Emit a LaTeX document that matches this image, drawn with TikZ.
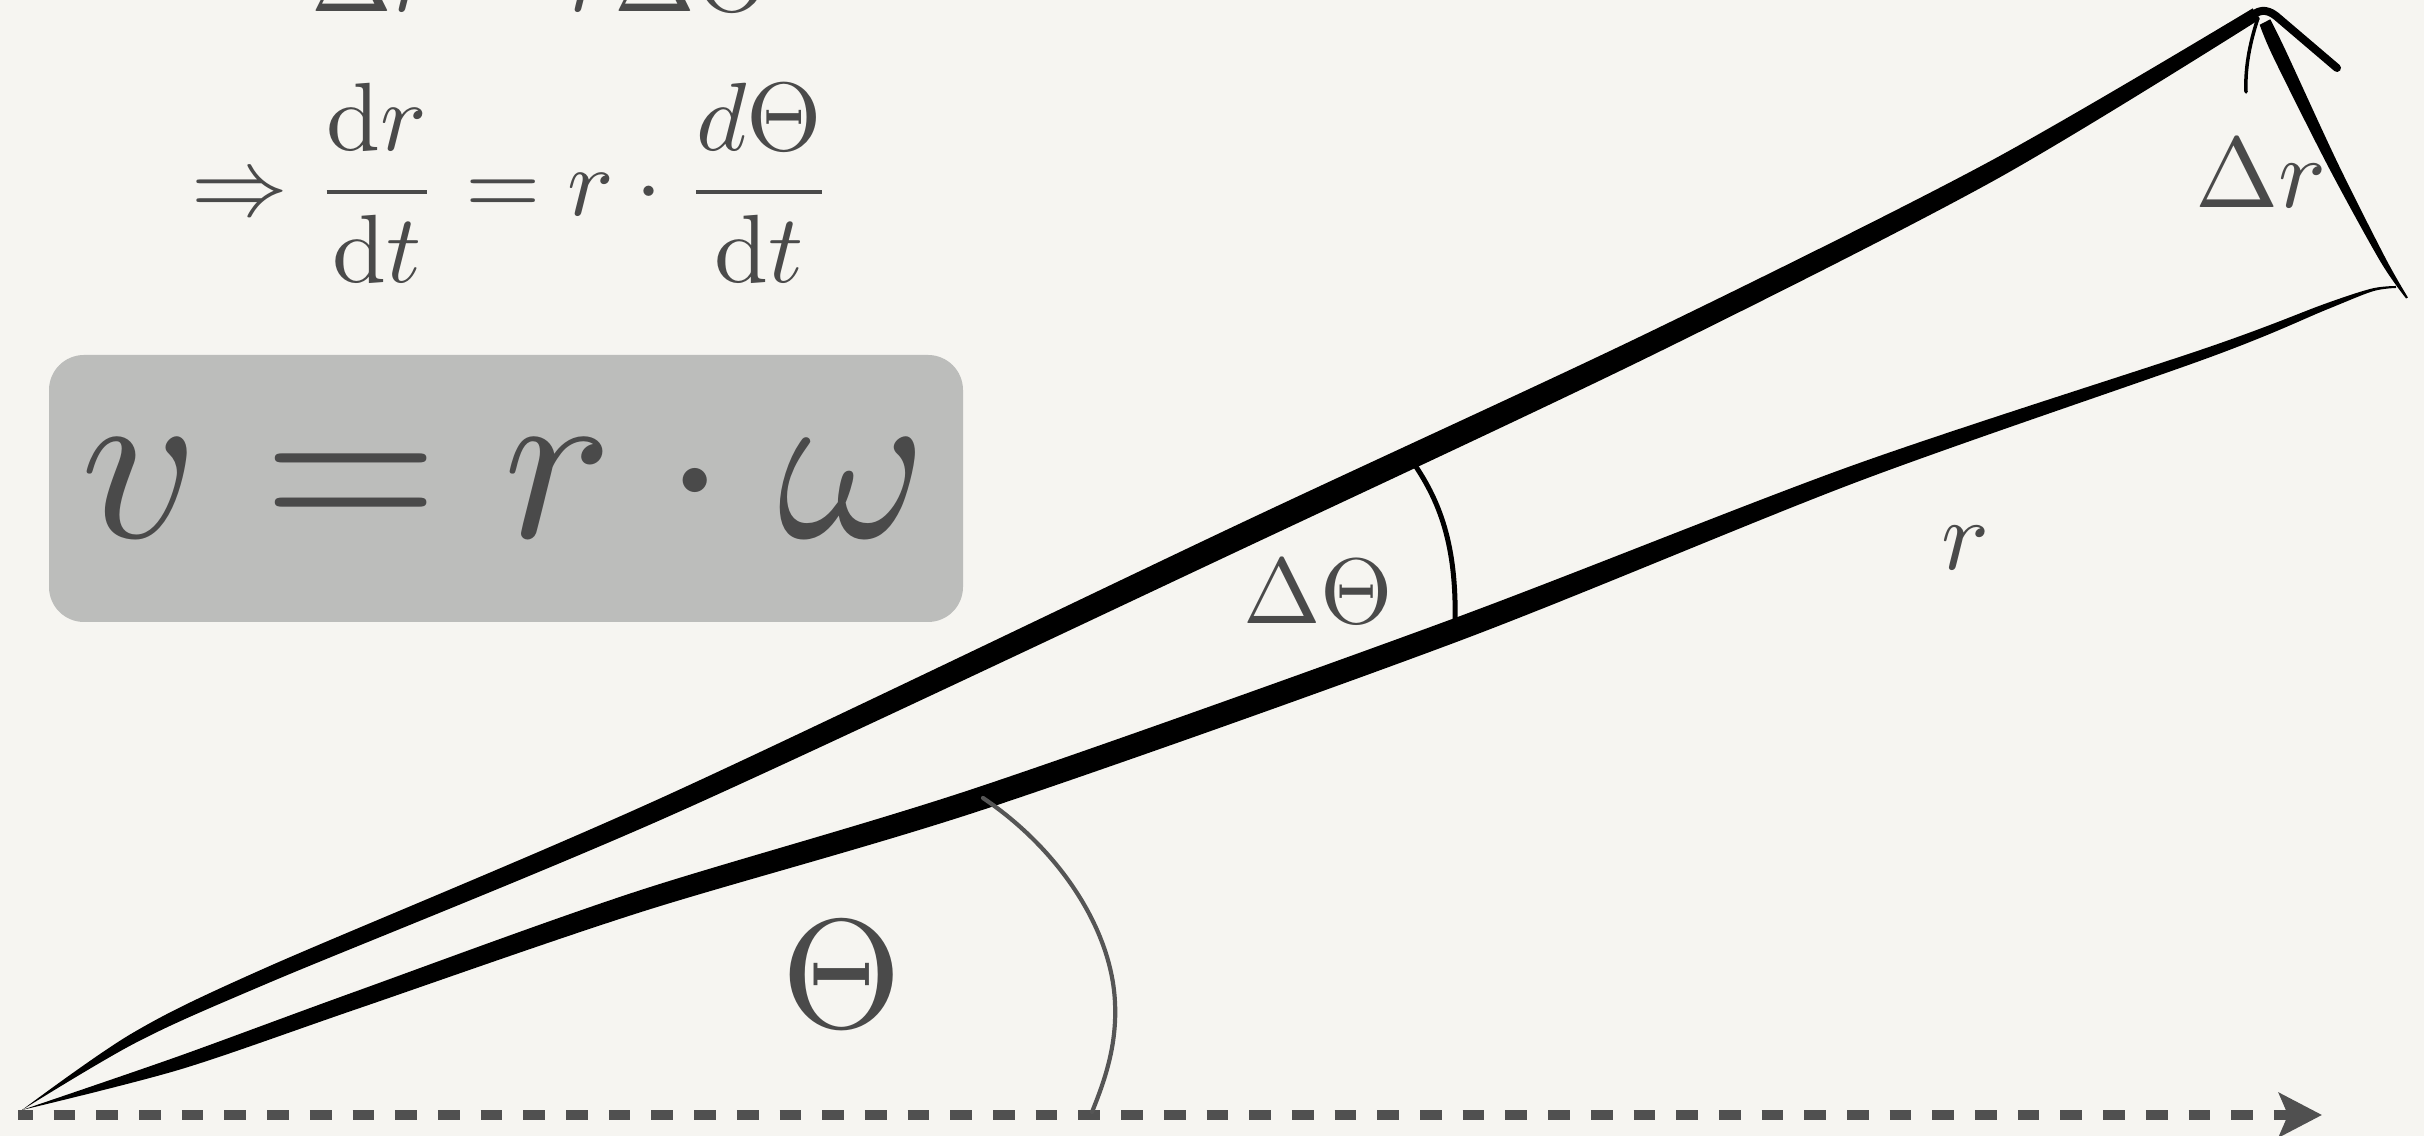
\documentclass[tikz,border=0pt]{standalone}
\usepackage{graphicx}
\usepackage{amsmath}
\usetikzlibrary{arrows.meta}
\definecolor{bgc}{HTML}{F6F5F1}
\definecolor{inkc}{HTML}{4A4A4A}
\definecolor{boxc}{HTML}{BCBDBB}
\definecolor{arcc}{HTML}{555555}
\definecolor{axisc}{HTML}{505050}
\begin{document}
\begin{tikzpicture}[x=0.1pt,y=-0.1pt,
  txt/.style={inner sep=0pt,outer sep=0pt,text=inkc},
  raystroke/.style={fill=black},
  thetaarc/.style={draw=arcc,line width=0.42pt,line cap=round},
  dthetaarc/.style={draw=black,line width=0.5pt,line cap=round},
  barbthick/.style={draw=black,line width=0.8pt,line cap=round,line join=round},
  barbthin/.style={draw=black,line width=0.35pt,line cap=round},
  axisline/.style={draw=axisc,line width=1pt,dash pattern=on 2.17pt off 2.1pt,dash phase=0.7pt,
     -{Stealth[length=4.3pt,width=4.4pt,inset=0.9pt,fill=axisc]}},
  eqbox/.style={fill=boxc,rounded corners=3.5pt}]
\fill[bgc] (0,0) rectangle (2424,1136);
\useasboundingbox (0,0) rectangle (2424,1136);

% top (cut) equation and derivative line
\node[txt,anchor=base west] (eqtop) at (311,12)
  {\scalebox{0.97}{$\Delta r = r\Delta\Theta$}};
\node[txt,anchor=base west] (eqder) at (191,216)
  {\scalebox{0.97}{$\Rightarrow \dfrac{\mathrm{d}r}{\mathrm{d}t} = r\cdot\dfrac{d\Theta}{\mathrm{d}t}$}};

% boxed result
\fill[eqbox] (49,355) rectangle (963,622);
\node[txt,anchor=base] (vrw) at (504,538) {\scalebox{2.28}{$v = r\cdot\omega$}};

% axis
\coordinate (axstart) at (18,1115);
\coordinate (axend) at (2322,1115);
\draw[axisline] (axstart) -- (axend);

% upper ray (tapered)
\fill[raystroke] plot[smooth] coordinates {(22,1110) (136.4,1042.4) (271,981.9) (676.1,813.1) (1251.1,544.9) (1652.8,354.9) (1994.5,180.3) (2259.3,19.6)}
  -- plot[smooth] coordinates {(2252.7,8.4) (1985.5,163.7) (1643.2,335.1) (1240.9,523.1) (667.9,794.9) (265,968.1) (131.6,1033.6) (22,1110)} -- cycle;

% lower ray (tapered)
\fill[raystroke] plot[smooth] coordinates {(22,1110) (181,1069.2) (359.8,1008) (641.2,912) (985.6,808.9) (1457,641.8) (1856.9,482) (2208.7,357.7) (2326.1,309.8) (2372.4,291.4) (2396.1,288)}
  -- plot[smooth] coordinates {(2395.9,286) (2371.6,288.6) (2323.9,304.2) (2205.3,348.3) (1851.1,466) (1449,620.2) (978.4,787.1) (634.8,892) (354.2,992) (177,1056.8) (22,1110)} -- cycle;

% Delta r arrow
\fill[raystroke] plot[smooth] coordinates {(2270.3,19.3) (2286.2,51.8) (2337.5,162.7) (2385.7,258.6) (2407.9,297.5)}
  -- plot[smooth] coordinates {(2406.1,298.5) (2380.3,261.4) (2328.6,167.3) (2273.8,58.2) (2259.7,24.8)} -- cycle;
\draw[barbthick] (2250,18) .. controls (2257,10) and (2266,8) .. (2276,16) -- (2337,68);
\draw[barbthin] (2258,18) .. controls (2249,45) and (2245,70) .. (2246,92);

% angle arcs
\draw[thetaarc] (983,798) .. controls (1060,850) and (1112,930) .. (1115,1003)
  .. controls (1117,1045) and (1105,1080) .. (1092,1112);
\draw[dthetaarc] (1410,458) .. controls (1440,500) and (1457,545) .. (1455,625);

% labels
\node[txt] (theta) at (842,975) {\scalebox{1.55}{$\Theta$}};
\node[txt] (dtheta) at (1318,592) {\scalebox{0.93}{$\Delta\Theta$}};
\node[txt] (dr) at (2261,173) {$\Delta r$};
\node[txt] (rlab) at (1965,548) {$r$};
\end{tikzpicture}
\end{document}
